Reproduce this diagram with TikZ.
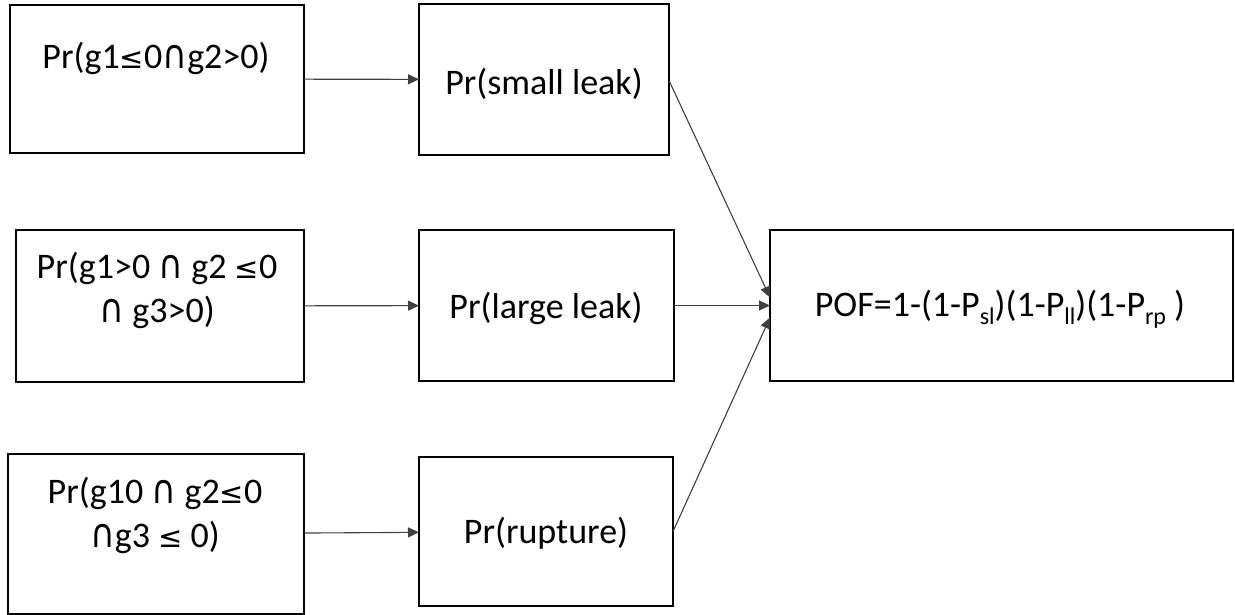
\documentclass[tikz,border=0pt]{standalone}
\usepackage{fontspec}
\usepackage{graphicx}
\setmainfont{Carlito}
\newfontfamily\symfont{DejaVu Sans}
\usetikzlibrary{arrows.meta}
% set-intersection and less-or-equal signs, drawn at cap height
\newcommand{\inter}{\scalebox{0.85}[1]{\symfont\fontsize{40}{43}\selectfont ∩}}
\newcommand{\leqs}{{\symfont\fontsize{29}{43}\selectfont ≤}}
% lowered subscript
\newcommand{\sub}[1]{\raisebox{-8pt}{\fontsize{24}{24}\selectfont #1}}
\tikzset{
  box/.style={draw=black, line width=1.8pt, outer sep=0pt, inner sep=0pt},
  lbl/.style={font=\fontsize{36}{44}\selectfont, align=center, inner sep=0pt},
  arr/.style={draw=black!75, line width=1.1pt, -{Triangle[length=11pt,width=10pt]}}
}
\begin{document}
\begin{tikzpicture}[x=1pt,y=-1pt]
\useasboundingbox (0,0) rectangle (1235,615);
% condition boxes (left column)
\node[box, minimum width=294pt, minimum height=148pt] (a1) at (157,79) {};
\node[box, minimum width=288pt, minimum height=152pt] (a2) at (160,306) {};
\node[box, minimum width=296pt, minimum height=160pt] (a3) at (156,534) {};
% event boxes (middle column)
\node[box, minimum width=250pt, minimum height=151pt] (b1) at (544,79.5) {};
\node[box, minimum width=255pt, minimum height=151pt] (b2) at (546.5,305.5) {};
\node[box, minimum width=254pt, minimum height=149pt] (b3) at (546,531.5) {};
% result box
\node[box, minimum width=463pt, minimum height=151pt] (c) at (1001.5,305.5) {};
% texts
\node[lbl] (t1) at (156,58) {Pr(g1\leqs0\inter g2>0)};
\node[lbl] (t2) at (157,290) {Pr(g1>0 \inter{} g2 \leqs0\\\inter{} g3>0)};
\node[lbl] (t3) at (155,515) {Pr(g10 \inter{} g2\leqs0\\\inter g3 \leqs{} 0)};
\node[lbl] (u1) at (544,84) {Pr(small leak)};
\node[lbl] (u2) at (546,308) {Pr(large leak)};
\node[lbl] (u3) at (546,533) {Pr(rupture)};
\node[lbl] (v) at (1000,309) {POF=1-(1-P\sub{sl})(1-P\sub{ll})(1-P\sub{rp} )};
% connectors
\coordinate (cin1) at ([yshift=8pt]c.west);
\coordinate (cin3) at ([yshift=-12pt]c.west);
\draw[arr] (a1) -- (b1);
\draw[arr] (a2) -- (b2);
\draw[arr] (a3) -- (b3);
\draw[arr] ([yshift=-1pt]b1.east) -- (cin1);
\draw[arr] (b2) -- (c);
\draw[arr] (b3.east) -- (cin3);
\end{tikzpicture}
\end{document}
